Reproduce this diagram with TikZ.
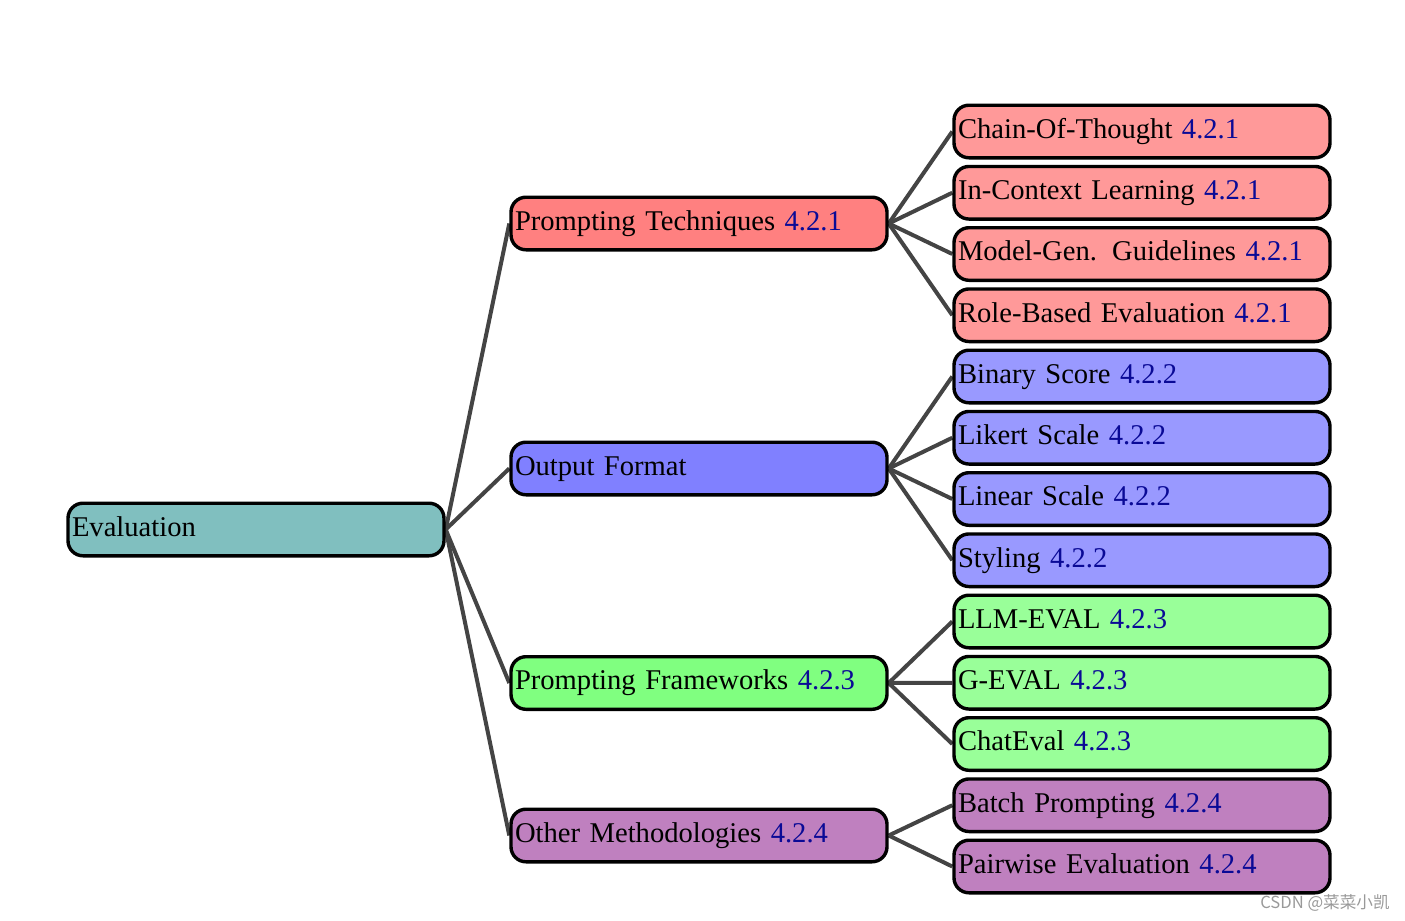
\documentclass[tikz,border=0pt]{standalone}
\usepackage{fontspec}
\setmainfont{Liberation Serif}
\newfontfamily\cjkwm{Noto Sans CJK SC}
\usetikzlibrary{backgrounds}
\definecolor{evalc}{RGB}{128,191,191}
\definecolor{redA}{RGB}{255,128,128}
\definecolor{redB}{RGB}{255,153,153}
\definecolor{blueA}{RGB}{128,128,255}
\definecolor{blueB}{RGB}{153,153,255}
\definecolor{greenA}{RGB}{128,255,128}
\definecolor{greenB}{RGB}{153,255,153}
\definecolor{purpA}{RGB}{191,128,191}
\definecolor{numc}{RGB}{10,10,150}
\definecolor{edgec}{RGB}{68,68,68}
\newcommand{\secnum}[1]{\textcolor{numc}{#1}}
\tikzset{
  box/.style={draw=black, line width=1.7pt, rounded corners=7.5pt,
    text width=184pt, inner xsep=2pt, inner ysep=0pt, minimum height=26.3pt,
    align=left, text height=0.9em, text depth=0.22em,
    font=\fontsize{14.3}{17}\selectfont},
  edge/.style={draw=edgec, line width=2pt},
}
\begin{document}
\begin{tikzpicture}[x=0.5pt,y=-0.5pt]
\useasboundingbox (0,0) rectangle (1405,921);
% root
\node[box, fill=evalc] (eval) at (256,529.5) {Evaluation};
% level 1
\node[box, fill=redA] (pt) at (699,223.5) {Prompting Techniques \secnum{4.2.1}};
\node[box, fill=blueA] (of) at (699,468.5) {Output Format};
\node[box, fill=greenA] (pf) at (699,683) {Prompting Frameworks \secnum{4.2.3}};
\node[box, fill=purpA] (om) at (699,835.5) {Other Methodologies \secnum{4.2.4}};
% level 2
\node[box, fill=redB] (cot) at (1142,131.5) {Chain-Of-Thought \secnum{4.2.1}};
\node[box, fill=redB] (icl) at (1142,192.75) {In-Context Learning \secnum{4.2.1}};
\node[box, fill=redB] (mgg) at (1142,254) {Model-Gen.\hspace{7.6pt}Guidelines \secnum{4.2.1}};
\node[box, fill=redB] (rbe) at (1142,315.25) {Role-Based Evaluation \secnum{4.2.1}};
\node[box, fill=blueB] (bs) at (1142,376.5) {Binary Score \secnum{4.2.2}};
\node[box, fill=blueB] (ls) at (1142,437.75) {Likert Scale \secnum{4.2.2}};
\node[box, fill=blueB] (lin) at (1142,499) {Linear Scale \secnum{4.2.2}};
\node[box, fill=blueB] (sty) at (1142,560.25) {Styling \secnum{4.2.2}};
\node[box, fill=greenB] (llm) at (1142,621.5) {LLM-EVAL \secnum{4.2.3}};
\node[box, fill=greenB] (gev) at (1142,682.75) {G-EVAL \secnum{4.2.3}};
\node[box, fill=greenB] (ce) at (1142,744) {ChatEval \secnum{4.2.3}};
\node[box, fill=purpA] (bp) at (1142,805.25) {Batch Prompting \secnum{4.2.4}};
\node[box, fill=purpA] (pe) at (1142,866.5) {Pairwise Evaluation \secnum{4.2.4}};
% watermark
\node[anchor=east, inner sep=0pt, text=black!40, font=\cjkwm\fontsize{8.3}{10}\selectfont] (wm) at (1390,903) {CSDN @菜菜小凯};
\begin{pgfonlayer}{background}
\foreach \c in {pt,of,pf,om} \draw[edge] (eval.east) -- (\c.west);
\foreach \c in {cot,icl,mgg,rbe} \draw[edge] (pt.east) -- (\c.west);
\foreach \c in {bs,ls,lin,sty} \draw[edge] (of.east) -- (\c.west);
\foreach \c in {llm,gev,ce} \draw[edge] (pf.east) -- (\c.west);
\foreach \c in {bp,pe} \draw[edge] (om.east) -- (\c.west);
\end{pgfonlayer}
\end{tikzpicture}
\end{document}
